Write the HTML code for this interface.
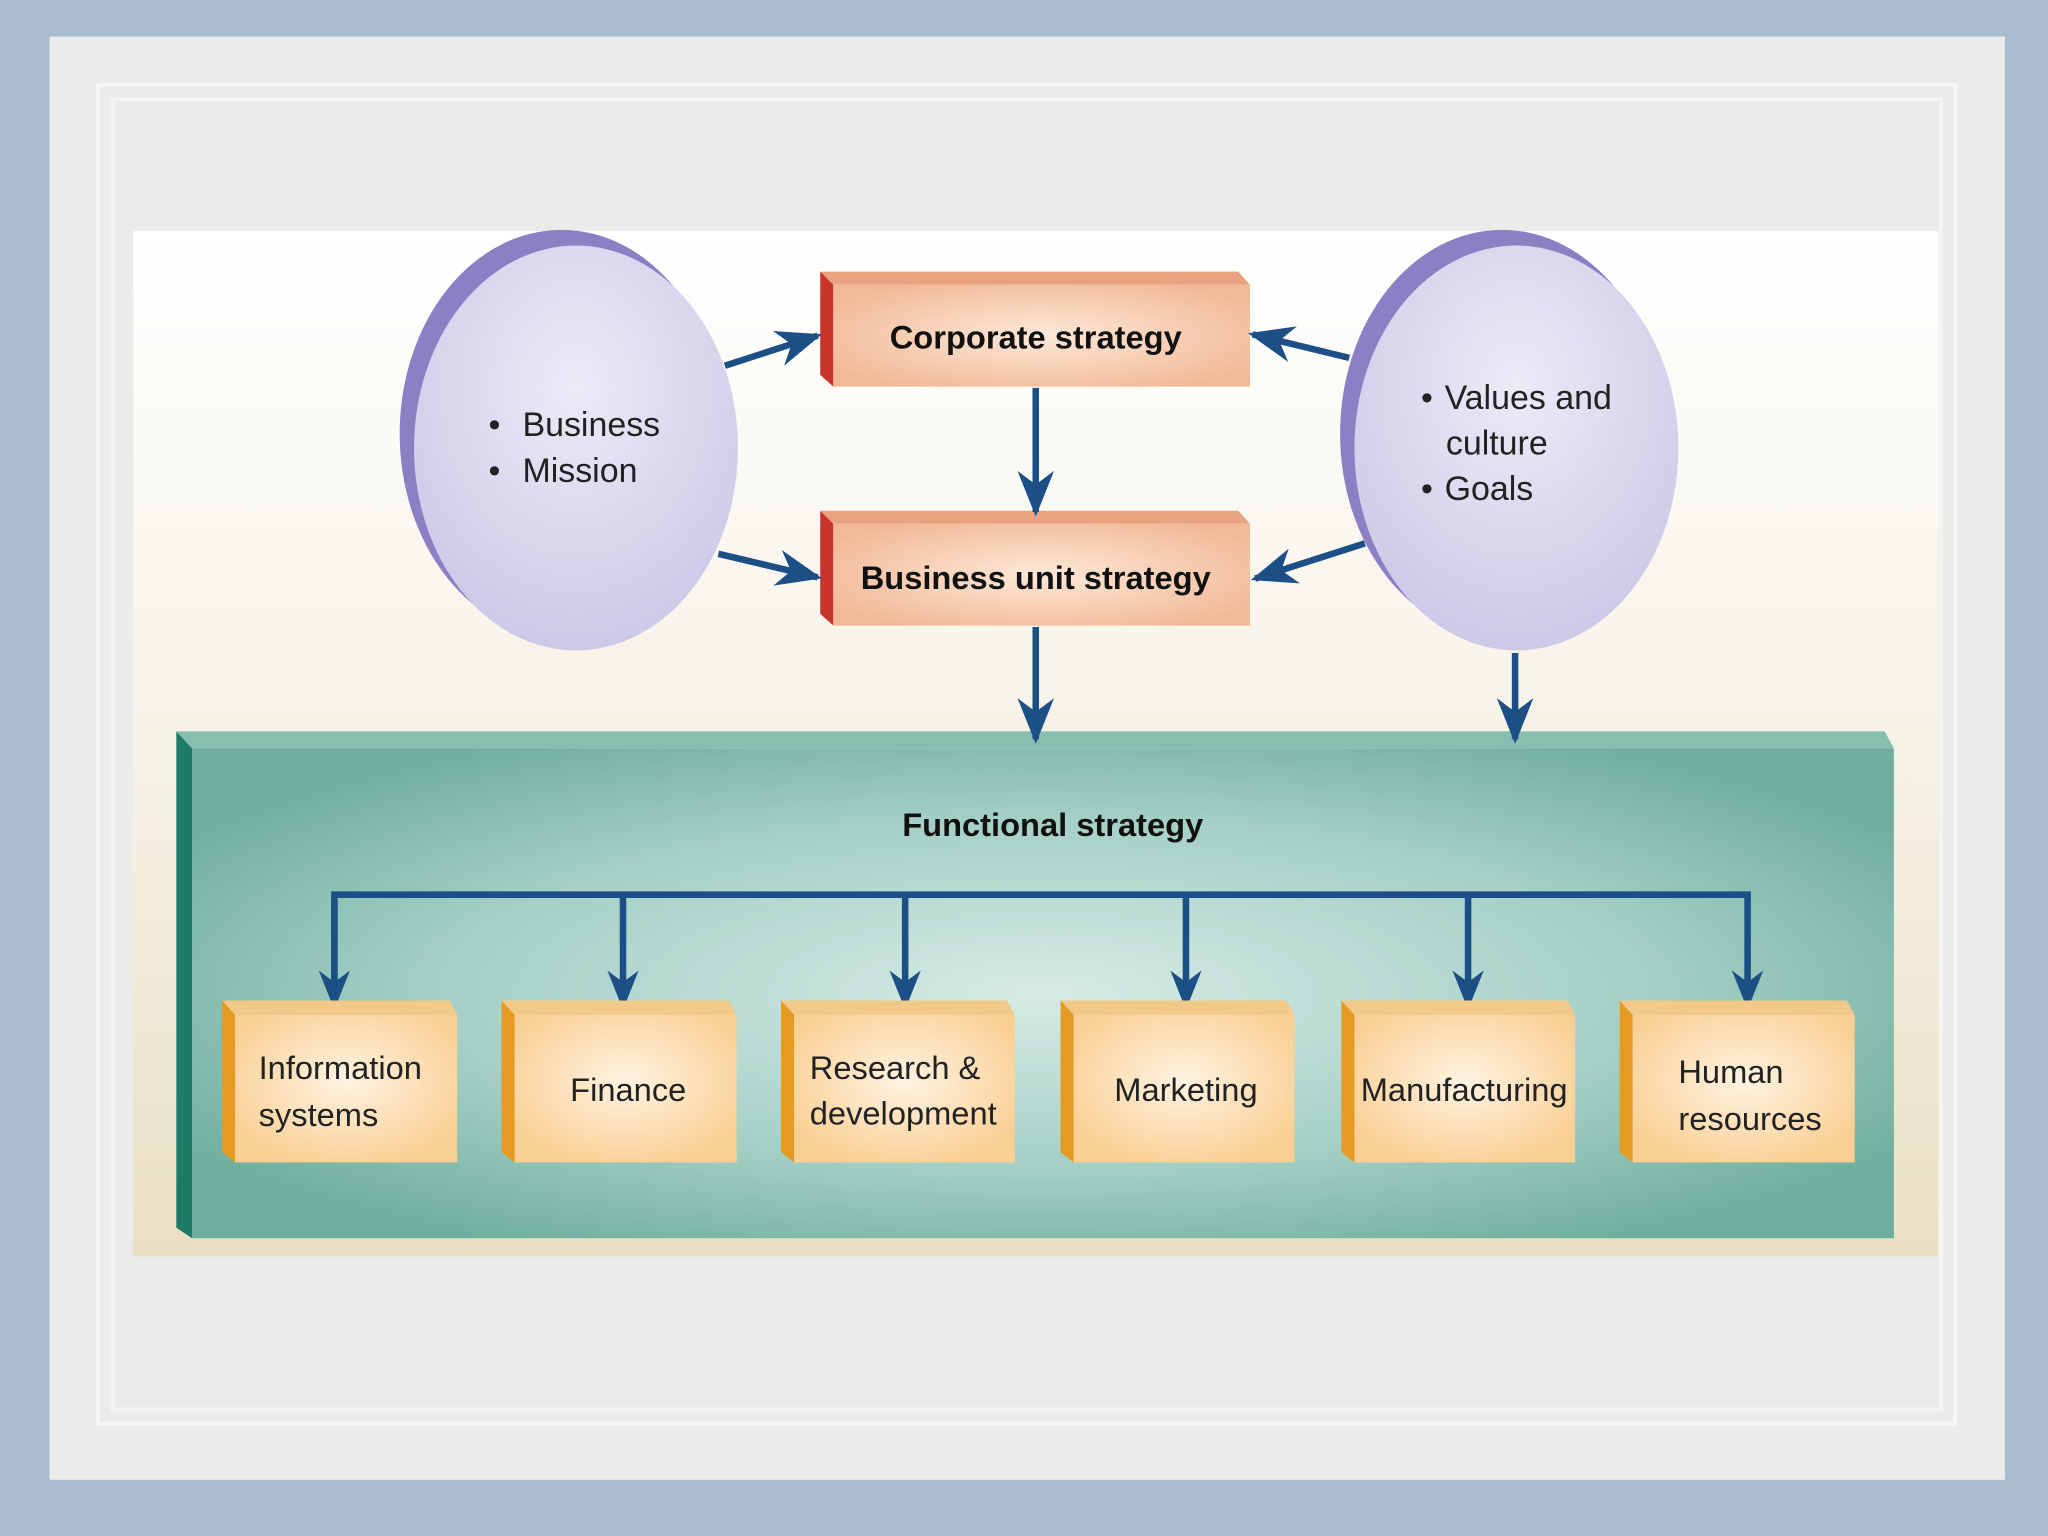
<!DOCTYPE html>
<html><head><meta charset="utf-8"><style>
html,body{margin:0;padding:0;width:2048px;height:1536px;overflow:hidden;background:#a9bccd}
svg{display:block}
text{font-family:"Liberation Sans",Arial,sans-serif}
</style></head><body>
<svg width="2048" height="1536" viewBox="0 0 1568 1176" xmlns="http://www.w3.org/2000/svg">
<defs>
<linearGradient id="bg" x1="0" y1="0" x2="0" y2="1"><stop offset="0" stop-color="#ffffff"/><stop offset="0.5" stop-color="#f6f2e6"/><stop offset="1" stop-color="#e9dfc4"/></linearGradient>
<radialGradient id="teal" cx="0.5" cy="0.5" r="0.6"><stop offset="0" stop-color="#d6ebe6"/><stop offset="0.6" stop-color="#a4cfc4"/><stop offset="1" stop-color="#6fae9e"/></radialGradient>
<radialGradient id="peach" cx="0.5" cy="0.5" r="0.6"><stop offset="0" stop-color="#fde8d8"/><stop offset="1" stop-color="#f2b996"/></radialGradient>
<radialGradient id="orng" cx="0.5" cy="0.45" r="0.6"><stop offset="0" stop-color="#fff3e2"/><stop offset="1" stop-color="#f9cf93"/></radialGradient>
<radialGradient id="purp" cx="0.5" cy="0.35" r="0.7"><stop offset="0" stop-color="#ecebf7"/><stop offset="1" stop-color="#cac6e6"/></radialGradient>
<marker id="ah" viewBox="0 0 20 20" refX="18" refY="10" markerWidth="7" markerHeight="7" orient="auto" markerUnits="strokeWidth"><path d="M0,2 L20,10 L0,18 L6,10 Z" fill="#1b4f86"/></marker>
<marker id="ah2" viewBox="0 0 20 20" refX="18" refY="10" markerWidth="6" markerHeight="6" orient="auto" markerUnits="strokeWidth"><path d="M0,2 L20,10 L0,18 L6,10 Z" fill="#1b4f86"/></marker>
</defs>
<rect x="0" y="0" width="1568" height="1176" fill="#a9bccd"/>
<rect x="38" y="28" width="1497" height="1105" fill="#ebebea"/>
<rect x="75" y="65" width="1422" height="1025" fill="none" stroke="#f6f6f5" stroke-width="3"/>
<rect x="86" y="76" width="1400" height="1003" fill="none" stroke="#f4f4f3" stroke-width="3"/>
<rect x="102" y="177" width="1382" height="785" fill="url(#bg)"/>

<ellipse cx="430" cy="332" rx="124" ry="156" fill="#8d7fc4"/>
<ellipse cx="441" cy="343" rx="124" ry="155" fill="url(#purp)"/>
<ellipse cx="1150" cy="332" rx="124" ry="156" fill="#8d7fc4"/>
<ellipse cx="1161" cy="343" rx="124" ry="155" fill="url(#purp)"/>
<g font-size="26" fill="#222">
<text x="374" y="334">•</text><text x="400" y="334">Business</text>
<text x="374" y="369">•</text><text x="400" y="369">Mission</text>
<text x="1088" y="313">•</text><text x="1106" y="313">Values and</text>
<text x="1107" y="348">culture</text>
<text x="1088" y="383">•</text><text x="1106" y="383">Goals</text>
</g>

<polygon points="628,208 948,208 957,218 638,218" fill="#e8a280"/>
<polygon points="628,208 638,218 638,296 628,287" fill="#c8342a"/>
<rect x="638" y="218" width="319" height="78" fill="url(#peach)"/>
<text x="793" y="267" font-size="25" font-weight="bold" text-anchor="middle" fill="#111">Corporate strategy</text>
<polygon points="628,391 948,391 957,401 638,401" fill="#e8a280"/>
<polygon points="628,391 638,401 638,479 628,470" fill="#c8342a"/>
<rect x="638" y="401" width="319" height="78" fill="url(#peach)"/>
<text x="793" y="451" font-size="25" font-weight="bold" text-anchor="middle" fill="#111">Business unit strategy</text>

<polygon points="135,560 1443,560 1450,573 147,573" fill="#86bfae"/>
<polygon points="135,560 147,573 147,948 135,940" fill="#1f7a68"/>
<rect x="147" y="573" width="1303" height="375" fill="url(#teal)"/>
<text x="806" y="640" font-size="25" font-weight="bold" text-anchor="middle" fill="#111">Functional strategy</text>

<g stroke="#1b4f86" stroke-width="5" fill="none">
<line x1="555" y1="280" x2="626" y2="257" marker-end="url(#ah)"/>
<line x1="550" y1="424" x2="626" y2="442" marker-end="url(#ah)"/>
<line x1="1033" y1="274" x2="959" y2="256" marker-end="url(#ah)"/>
<line x1="1045" y1="416" x2="961" y2="443" marker-end="url(#ah)"/>
<line x1="793" y1="297" x2="793" y2="392" marker-end="url(#ah)"/>
<line x1="793" y1="480" x2="793" y2="566" marker-end="url(#ah)"/>
<line x1="1160" y1="500" x2="1160" y2="566" marker-end="url(#ah)"/>
<polyline points="256,770 256,685 1338,685 1338,770" marker-end="url(#ah2)" stroke-linejoin="miter"/>
<line x1="256" y1="690" x2="256" y2="770" marker-end="url(#ah2)"/>
<line x1="477" y1="685" x2="477" y2="770" marker-end="url(#ah2)"/>
<line x1="693" y1="685" x2="693" y2="770" marker-end="url(#ah2)"/>
<line x1="908" y1="685" x2="908" y2="770" marker-end="url(#ah2)"/>
<line x1="1124" y1="685" x2="1124" y2="770" marker-end="url(#ah2)"/>
</g>

<g>
<polygon points="170,766 344,766 350,777 180,777" fill="#f3c98a"/><polygon points="170,766 180,777 180,890 170,882" fill="#e59a22"/><rect x="180" y="777" width="170" height="113" fill="url(#orng)"/>
<polygon points="384,766 558,766 564,777 394,777" fill="#f3c98a"/><polygon points="384,766 394,777 394,890 384,882" fill="#e59a22"/><rect x="394" y="777" width="170" height="113" fill="url(#orng)"/>
<polygon points="598,766 771,766 777,777 608,777" fill="#f3c98a"/><polygon points="598,766 608,777 608,890 598,882" fill="#e59a22"/><rect x="608" y="777" width="169" height="113" fill="url(#orng)"/>
<polygon points="812,766 985,766 991,777 822,777" fill="#f3c98a"/><polygon points="812,766 822,777 822,890 812,882" fill="#e59a22"/><rect x="822" y="777" width="169" height="113" fill="url(#orng)"/>
<polygon points="1027,766 1200,766 1206,777 1037,777" fill="#f3c98a"/><polygon points="1027,766 1037,777 1037,890 1027,882" fill="#e59a22"/><rect x="1037" y="777" width="169" height="113" fill="url(#orng)"/>
<polygon points="1240,766 1414,766 1420,777 1250,777" fill="#f3c98a"/><polygon points="1240,766 1250,777 1250,890 1240,882" fill="#e59a22"/><rect x="1250" y="777" width="170" height="113" fill="url(#orng)"/>
</g>
<g font-size="25" fill="#222">
<text x="198" y="826">Information</text><text x="198" y="862">systems</text>
<text x="481" y="843" text-anchor="middle">Finance</text>
<text x="620" y="826">Research &amp;</text><text x="620" y="861">development</text>
<text x="908" y="843" text-anchor="middle">Marketing</text>
<text x="1121" y="843" text-anchor="middle">Manufacturing</text>
<text x="1285" y="829">Human</text><text x="1285" y="865">resources</text>
</g>
</svg>
</body></html>
